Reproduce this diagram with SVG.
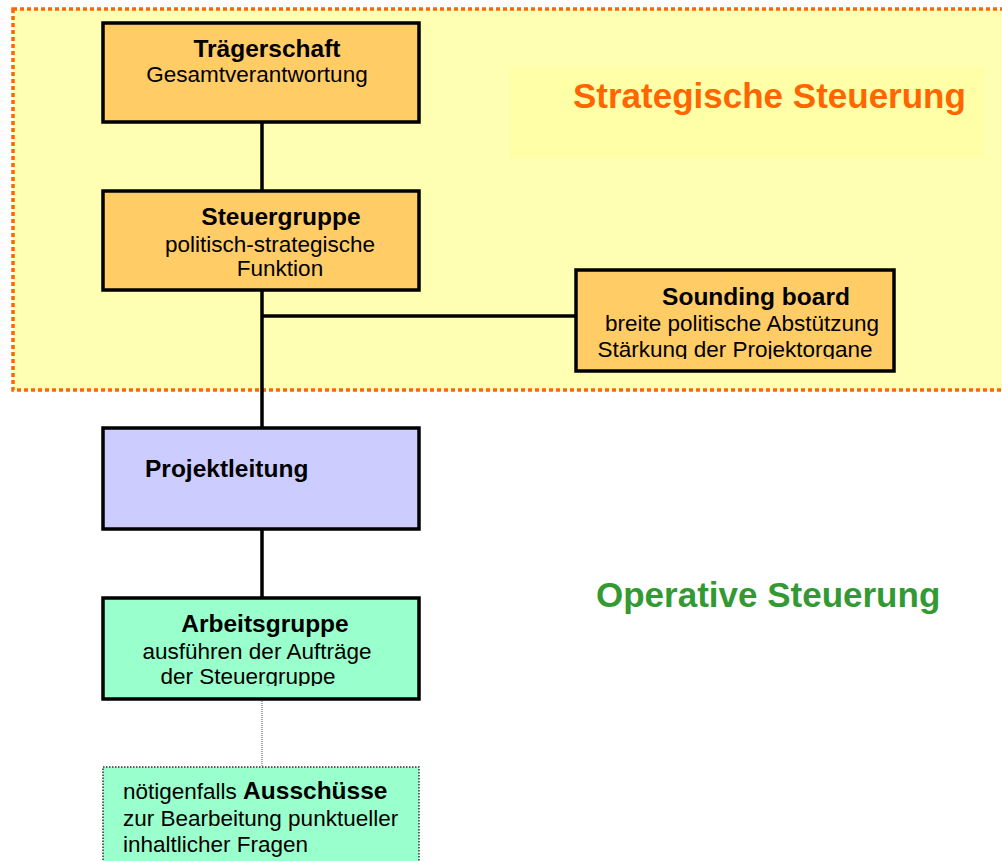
<svg xmlns="http://www.w3.org/2000/svg" width="1002" height="861" viewBox="0 0 1002 861">
<defs>
<style>
.box{stroke:#000;stroke-width:3.5}
.t{font-family:"Liberation Sans",Arial,sans-serif;fill:#000}
.b{font-weight:bold;font-size:24.5px}
.r{font-size:22.5px}
.conn{stroke:#000;stroke-width:3.5;fill:none}
</style>
<clipPath id="clipSB"><rect x="576" y="270" width="318" height="89"/></clipPath>
<clipPath id="clipAG"><rect x="103" y="598" width="316" height="88"/></clipPath>
</defs>
<rect width="1002" height="861" fill="#fff"/>
<g id="strategic-zone">
<rect x="13" y="9" width="1000" height="381" fill="#FFFFB4" stroke="#FF6600" stroke-width="3.5" stroke-dasharray="4 3"/>
<rect x="510" y="67" width="475" height="91" fill="#FFFFA8"/>
<text class="t" x="573" y="108" font-size="35" font-weight="bold" style="fill:#FF6600">Strategische Steuerung</text>
</g>
<g id="operative-label">
<text class="t" x="596" y="607" font-size="35" font-weight="bold" style="fill:#339933">Operative Steuerung</text>
</g>
<g id="connectors">
<line class="conn" x1="262" y1="122" x2="262" y2="191"/>
<line class="conn" x1="262" y1="290" x2="262" y2="428"/>
<line class="conn" x1="262" y1="316" x2="576" y2="316"/>
<line class="conn" x1="262" y1="529" x2="262" y2="598"/>
<line x1="262" y1="699" x2="262" y2="767" stroke="#555" stroke-width="1" stroke-dasharray="1 1"/>
</g>
<g id="traegerschaft">
<rect class="box" x="103" y="23" width="316" height="99" fill="#FFCC66"/>
<text class="t b" x="267" y="57" text-anchor="middle">Trägerschaft</text>
<text class="t r" x="257" y="82" text-anchor="middle">Gesamtverantwortung</text>
</g>
<g id="steuergruppe">
<rect class="box" x="103" y="191" width="316" height="99" fill="#FFCC66"/>
<text class="t b" x="281" y="225" text-anchor="middle">Steuergruppe</text>
<text class="t r" x="270" y="252" text-anchor="middle">politisch-strategische</text>
<text class="t r" x="280" y="276" text-anchor="middle">Funktion</text>
</g>
<g id="sounding-board">
<rect class="box" x="576" y="270" width="318" height="101" fill="#FFCC66"/>
<text class="t b" x="756" y="305" text-anchor="middle">Sounding board</text>
<text class="t r" x="742" y="331" text-anchor="middle">breite politische Abstützung</text>
<text class="t r" x="735" y="357" text-anchor="middle" clip-path="url(#clipSB)">Stärkung der Projektorgane</text>
</g>
<g id="projektleitung">
<rect class="box" x="103" y="428" width="316" height="101" fill="#CCCCFF"/>
<text class="t b" x="145" y="477">Projektleitung</text>
</g>
<g id="arbeitsgruppe">
<rect class="box" x="103" y="598" width="316" height="101" fill="#99FFCC"/>
<text class="t b" x="265" y="632" text-anchor="middle">Arbeitsgruppe</text>
<text class="t r" x="257" y="659" text-anchor="middle">ausführen der Aufträge</text>
<text class="t r" x="248" y="684" text-anchor="middle" clip-path="url(#clipAG)">der Steuergruppe</text>
</g>
<g id="ausschuesse">
<rect x="103" y="767" width="316" height="110" fill="#99FFCC" stroke="#333" stroke-width="1.5" stroke-dasharray="1.5 1.5"/>
<text class="t r" x="123" y="799">nötigenfalls <tspan font-weight="bold" font-size="24.5">Ausschüsse</tspan></text>
<text class="t r" x="123" y="826">zur Bearbeitung punktueller</text>
<text class="t r" x="123" y="852">inhaltlicher Fragen</text>
</g>
</svg>
